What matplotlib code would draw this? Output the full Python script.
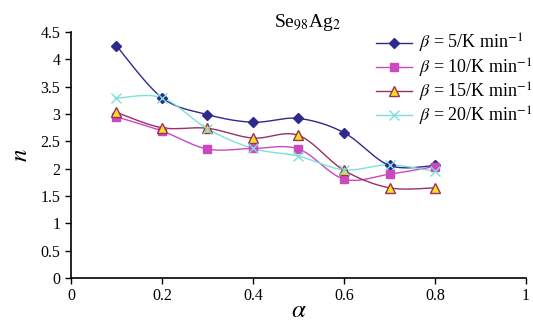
import numpy as np
import matplotlib
matplotlib.use("Agg")
import matplotlib.pyplot as plt
from matplotlib.lines import Line2D

plt.rcParams['font.family'] = ['Liberation Serif', 'DejaVu Serif']
plt.rcParams['mathtext.fontset'] = 'stix'

alpha = [0.1, 0.2, 0.3, 0.4, 0.5, 0.6, 0.7, 0.8]
n_b5 = [4.25, 3.30, 2.99, 2.85, 2.92, 2.66, 2.06, 2.06]
n_b10 = [2.95, 2.69, 2.36, 2.37, 2.36, 1.81, 1.90, 2.04]
n_b15 = [3.03, 2.75, 2.74, 2.56, 2.61, 1.97, 1.65, 1.65]
n_b20 = [3.29, 3.30, 2.73, 2.37, 2.23, 1.98, 2.07, 1.95]
labels = [r"$\beta$ = 5/K min$^{-1}$", r"$\beta$ = 10/K min$^{-1}$",
          r"$\beta$ = 15/K min$^{-1}$", r"$\beta$ = 20/K min$^{-1}$"]


def smooth(x, y, steps=20):
    # catmull-rom style curve through the points, like excel's smoothed line
    x = np.asarray(x, float)
    y = np.asarray(y, float)
    px = np.concatenate([[x[0]], x, [x[-1]]])
    py = np.concatenate([[y[0]], y, [y[-1]]])
    xs, ys = [], []
    t = np.linspace(0, 1, steps)
    for i in range(1, len(px) - 2):
        p0 = np.array([px[i], py[i]])
        p3 = np.array([px[i + 1], py[i + 1]])
        c1 = p0 + (np.array([px[i + 1], py[i + 1]]) - np.array([px[i - 1], py[i - 1]])) / 6
        c2 = p3 - (np.array([px[i + 2], py[i + 2]]) - np.array([px[i], py[i]])) / 6
        b = ((1 - t) ** 3)[:, None] * p0 + (3 * (1 - t) ** 2 * t)[:, None] * c1 \
            + (3 * (1 - t) * t ** 2)[:, None] * c2 + (t ** 3)[:, None] * p3
        xs.extend(b[:, 0])
        ys.extend(b[:, 1])
    return xs, ys


fig = plt.figure(figsize=(5.33, 3.24), dpi=100)
ax = fig.add_axes([0.133, 0.142, 0.854, 0.759])

styles = [
    dict(color='#2e2a8c', marker='D', mfc='#2e2a8c', mec='#2e2a8c', ms=5.5),
    dict(color='#cc48c0', marker='s', mfc='#cc48c0', mec='#cc48c0', ms=6),
    dict(color='#9b2f63', marker='^', mfc='#f5e21a', mec='#9b2f63', ms=7),
    dict(color='#7fe0d8', marker='x', mfc='#7fe0d8', mec='#7fe0d8', ms=7),
]
series = [n_b5, n_b10, n_b15, n_b20]

handles = []
for ys, st, lab in zip(series, styles, labels):
    sx, sy = smooth(alpha, ys)
    ax.plot(sx, sy, color=st['color'], lw=1.0, zorder=2)
    ax.plot(alpha, ys, ls='none', marker=st['marker'], mfc=st['mfc'],
            mec=st['mec'], ms=st['ms'], mew=1.0, zorder=3)
    handles.append(Line2D([0], [0], color=st['color'], lw=1.0, marker=st['marker'],
                          mfc=st['mfc'], mec=st['mec'], ms=st['ms'] - 0.5, mew=1.0, label=lab))

ax.set_xlim(0, 1)
ax.set_ylim(0, 4.5)
ax.set_xticks([0, 0.2, 0.4, 0.6, 0.8, 1])
ax.set_xticklabels(['0', '0.2', '0.4', '0.6', '0.8', '1'])
ax.set_yticks(np.arange(0, 4.51, 0.5))
ax.set_yticklabels(['0', '0.5', '1', '1.5', '2', '2.5', '3', '3.5', '4', '4.5'])
ax.tick_params(labelsize=11.5, direction='out', length=4, width=1)
for s in ['top', 'right']:
    ax.spines[s].set_visible(False)
for s in ['left', 'bottom']:
    ax.spines[s].set_linewidth(1.2)

ax.set_xlabel(r'$\alpha$', fontsize=18, labelpad=-3)
ax.set_ylabel(r'$n$', fontsize=18, labelpad=6)
ax.set_title(r'Se$_{98}$Ag$_2$', fontsize=14, x=0.52, y=0.985)

ax.legend(handles=handles, loc='upper right', bbox_to_anchor=(1.05, 1.065), frameon=False,
          fontsize=13, handlelength=2.0, handletextpad=0.4, labelspacing=0.05)

fig.savefig('out.png', dpi=100)
